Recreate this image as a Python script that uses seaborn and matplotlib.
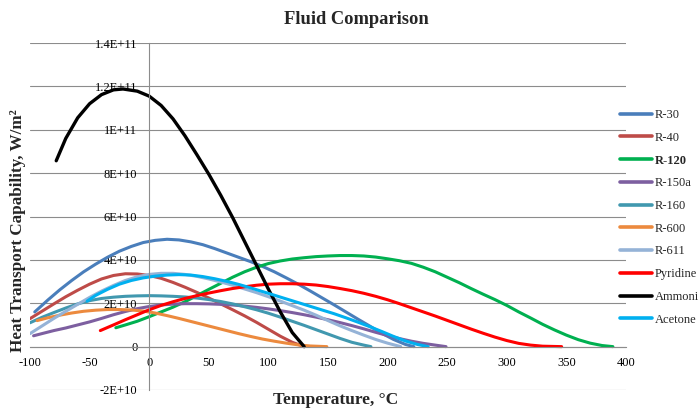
import matplotlib
matplotlib.use("Agg")
import matplotlib.pyplot as plt
import seaborn as sns
import pandas as pd
from matplotlib.ticker import FixedLocator, MultipleLocator, FixedFormatter

# ---------------- data (values in units of 1E+10 W/m^2) ----------------
fluids = ["R-30", "R-40", "R-120", "R-150a", "R-160", "R-600", "R-611",
          "Pyridine", "Ammoni", "Acetone"]
colors = ["#4A7EBB", "#BE4B48", "#00B050", "#7D5FA0", "#4198AF", "#EC8A3E",
          "#95B3D7", "#FF0000", "#000000", "#00B0F0"]

r30_t = [-96, -85, -75, -65, -55, -45, -35, -25, -15, -5, 5, 15, 25, 35, 45, 55, 65, 75, 85, 95, 105, 115, 125, 135, 145, 155, 165, 175, 185, 195, 205, 215, 222]
r30_v = [1.6, 2.15, 2.62, 3.05, 3.45, 3.8, 4.12, 4.4, 4.62, 4.8, 4.9, 4.95, 4.92, 4.83, 4.7, 4.52, 4.32, 4.12, 3.92, 3.7, 3.45, 3.17, 2.88, 2.57, 2.25, 1.93, 1.6, 1.27, 0.95, 0.62, 0.33, 0.1, 0.0]

r40_t = [-100, -90, -80, -70, -60, -50, -40, -30, -20, -10, 0, 10, 20, 30, 40, 50, 60, 70, 80, 90, 100, 110, 120, 130]
r40_v = [1.29, 1.63, 1.97, 2.3, 2.6, 2.88, 3.12, 3.28, 3.36, 3.35, 3.28, 3.15, 2.96, 2.74, 2.5, 2.24, 1.97, 1.7, 1.42, 1.12, 0.8, 0.48, 0.2, 0.0]

r120_t = [-28, -20, -10, 0, 10, 20, 30, 40, 50, 60, 70, 80, 90, 100, 110, 120, 130, 140, 150, 160, 170, 180, 190, 200, 210, 220, 230, 240, 250, 260, 270, 280, 290, 300, 310, 320, 330, 340, 350, 360, 370, 380, 389]
r120_v = [0.87, 1.0, 1.17, 1.38, 1.6, 1.82, 2.07, 2.35, 2.64, 2.92, 3.2, 3.45, 3.66, 3.83, 3.95, 4.04, 4.1, 4.15, 4.18, 4.2, 4.2, 4.18, 4.13, 4.05, 3.96, 3.84, 3.66, 3.45, 3.2, 2.95, 2.68, 2.42, 2.17, 1.9, 1.6, 1.32, 1.03, 0.77, 0.53, 0.32, 0.16, 0.05, 0.0]

r150a_t = [-97, -90, -80, -70, -60, -50, -40, -30, -20, -10, 0, 10, 20, 30, 40, 50, 60, 70, 80, 90, 100, 110, 120, 130, 140, 150, 160, 170, 180, 190, 200, 210, 220, 230, 240, 249]
r150a_v = [0.5, 0.6, 0.74, 0.86, 1.0, 1.14, 1.3, 1.47, 1.62, 1.75, 1.85, 1.92, 1.96, 1.98, 1.98, 1.97, 1.95, 1.92, 1.87, 1.81, 1.74, 1.66, 1.57, 1.47, 1.36, 1.24, 1.11, 0.97, 0.82, 0.66, 0.51, 0.37, 0.25, 0.15, 0.07, 0.0]

r160_t = [-100, -90, -80, -70, -60, -50, -40, -30, -20, -10, 0, 10, 20, 30, 40, 50, 60, 70, 80, 90, 100, 110, 120, 130, 140, 150, 160, 170, 180, 186]
r160_v = [1.1, 1.35, 1.57, 1.78, 1.97, 2.12, 2.22, 2.28, 2.32, 2.34, 2.35, 2.34, 2.32, 2.29, 2.24, 2.17, 2.08, 1.97, 1.84, 1.7, 1.54, 1.36, 1.17, 0.98, 0.78, 0.58, 0.38, 0.2, 0.07, 0.0]

r600_t = [-94, -85, -75, -65, -55, -45, -35, -25, -15, -5, 5, 15, 25, 35, 45, 55, 65, 75, 85, 95, 105, 115, 125, 135, 149]
r600_v = [1.2, 1.33, 1.45, 1.55, 1.63, 1.68, 1.71, 1.71, 1.69, 1.64, 1.55, 1.43, 1.3, 1.16, 1.02, 0.88, 0.74, 0.6, 0.47, 0.35, 0.25, 0.16, 0.08, 0.03, 0.0]

r611_t = [-100, -90, -80, -70, -60, -50, -40, -30, -20, -10, 0, 10, 20, 30, 40, 50, 60, 70, 80, 90, 100, 110, 120, 130, 140, 150, 160, 170, 180, 190, 200, 211]
r611_v = [0.6, 0.95, 1.3, 1.63, 1.95, 2.27, 2.56, 2.82, 3.05, 3.22, 3.33, 3.38, 3.38, 3.33, 3.24, 3.12, 2.98, 2.83, 2.66, 2.49, 2.3, 2.1, 1.89, 1.68, 1.45, 1.2, 0.96, 0.74, 0.53, 0.33, 0.16, 0.0]

pyr_t = [-41, -30, -20, -10, 0, 10, 20, 30, 40, 50, 60, 70, 80, 90, 100, 110, 120, 130, 140, 150, 160, 170, 180, 190, 200, 210, 220, 230, 240, 250, 260, 270, 280, 290, 300, 310, 320, 330, 346]
pyr_v = [0.74, 1.0, 1.24, 1.47, 1.7, 1.9, 2.07, 2.22, 2.35, 2.47, 2.58, 2.68, 2.76, 2.83, 2.88, 2.9, 2.9, 2.88, 2.84, 2.77, 2.68, 2.58, 2.46, 2.32, 2.16, 1.98, 1.79, 1.6, 1.41, 1.21, 1.01, 0.81, 0.62, 0.44, 0.28, 0.15, 0.07, 0.02, 0.0]

nh3_t = [-78, -70, -60, -50, -40, -30, -22, -10, 0, 10, 20, 30, 40, 50, 60, 70, 80, 90, 100, 110, 120, 130]
nh3_v = [8.57, 9.6, 10.55, 11.2, 11.62, 11.84, 11.88, 11.78, 11.55, 11.12, 10.5, 9.72, 8.85, 7.95, 6.98, 5.95, 4.85, 3.75, 2.65, 1.6, 0.65, 0.0]

ace_t = [-52, -45, -35, -25, -15, -5, 5, 15, 25, 35, 45, 55, 65, 75, 85, 95, 105, 115, 125, 135, 145, 155, 165, 175, 185, 195, 205, 215, 225, 234]
ace_v = [2.1, 2.36, 2.64, 2.88, 3.05, 3.17, 3.25, 3.3, 3.32, 3.3, 3.23, 3.13, 3.01, 2.87, 2.71, 2.54, 2.37, 2.2, 2.03, 1.86, 1.69, 1.52, 1.33, 1.13, 0.92, 0.7, 0.47, 0.26, 0.1, 0.0]

series_t = [r30_t, r40_t, r120_t, r150a_t, r160_t, r600_t, r611_t, pyr_t, nh3_t, ace_t]
series_v = [r30_v, r40_v, r120_v, r150a_v, r160_v, r600_v, r611_v, pyr_v, nh3_v, ace_v]

y_ticks = [-2e10, 0, 2e10, 4e10, 6e10, 8e10, 1e11, 1.2e11, 1.4e11]
y_tick_labels = ["-2E+10", "0", "2E+10", "4E+10", "6E+10", "8E+10", "1E+11", "1.2E+11", "1.4E+11"]
x_ticks = [-100, -50, 0, 50, 100, 150, 200, 250, 300, 350, 400]
x_tick_labels = ["-100", "-50", "0", "50", "100", "150", "200", "250", "300", "350", "400"]

# ---------------- plot ----------------
sns.set_style("white")
plt.rcParams["font.family"] = ["Liberation Serif", "DejaVu Serif"]

fig = plt.figure(figsize=(6.98, 4.09), dpi=100)
ax = fig.add_axes([30 / 698, 1 - 390 / 409, (626 - 30) / 698, (390 - 43) / 409])

rows = []
for name, ts, vs in zip(fluids, series_t, series_v):
    for t, v in zip(ts, vs):
        rows.append((name, t, v * 1e10))
df = pd.DataFrame(rows, columns=["Fluid", "T", "Q"])

for name, col in zip(fluids, colors):
    sub = df[df["Fluid"] == name]
    lw = 2.4 if name == "Ammoni" else 2.2
    sns.lineplot(data=sub, x="T", y="Q", ax=ax, color=col, lw=lw, label=name,
                 sort=False, estimator=None, solid_joinstyle="round")

ax.set_xlim(-100, 400)
ax.set_ylim(-2e10, 1.4e11)

grid_col = "#8C8C8C"
ax.yaxis.set_major_locator(FixedLocator(y_ticks))
ax.yaxis.set_major_formatter(FixedFormatter(y_tick_labels))
ax.xaxis.set_major_locator(FixedLocator(x_ticks))
ax.xaxis.set_major_formatter(FixedFormatter(x_tick_labels))
ax.xaxis.set_minor_locator(MultipleLocator(10))
ax.grid(axis="y", color=grid_col, lw=0.8)
ax.grid(axis="x", visible=False)
ax.set_axisbelow(True)

for s in ["top", "right"]:
    ax.spines[s].set_visible(False)
ax.spines["left"].set_position(("data", 0))
ax.spines["bottom"].set_position(("data", 0))
for s in ["left", "bottom"]:
    ax.spines[s].set_color(grid_col)
    ax.spines[s].set_linewidth(0.8)

ax.tick_params(axis="y", length=0, pad=8.5, labelsize=9, colors="black")
ax.tick_params(axis="x", which="both", direction="out", length=3, width=0.8,
               color=grid_col, pad=4.5, labelsize=9, labelcolor="black")
ax.set_xlabel("")
ax.set_ylabel("")

ax.get_legend().remove()
handles, labels = ax.get_legend_handles_labels()
leg = fig.legend(handles, labels, loc="upper left",
                 bbox_to_anchor=(620 / 698, 1 - 109 / 409),
                 frameon=False, fontsize=9, handlelength=2.55,
                 handletextpad=0.22, labelspacing=0.86, borderpad=0,
                 borderaxespad=0)
for lh in leg.get_lines():
    lh.set_linewidth(2.6)
leg.get_texts()[2].set_fontweight("bold")

fig.text(356 / 698, 1 - 20 / 409, "Fluid Comparison", ha="center", va="center",
         fontsize=13.3, fontweight="bold")
fig.text(336 / 698, 1 - 400 / 409, "Temperature, °C", ha="center", va="center",
         fontsize=12.5, fontweight="bold")
fig.text(18 / 698, 1 - 231 / 409, "Heat Transport Capability, W/m²", ha="center",
         va="center", rotation=90, fontsize=12.3, fontweight="bold")

fig.savefig("out.png", dpi=100)
